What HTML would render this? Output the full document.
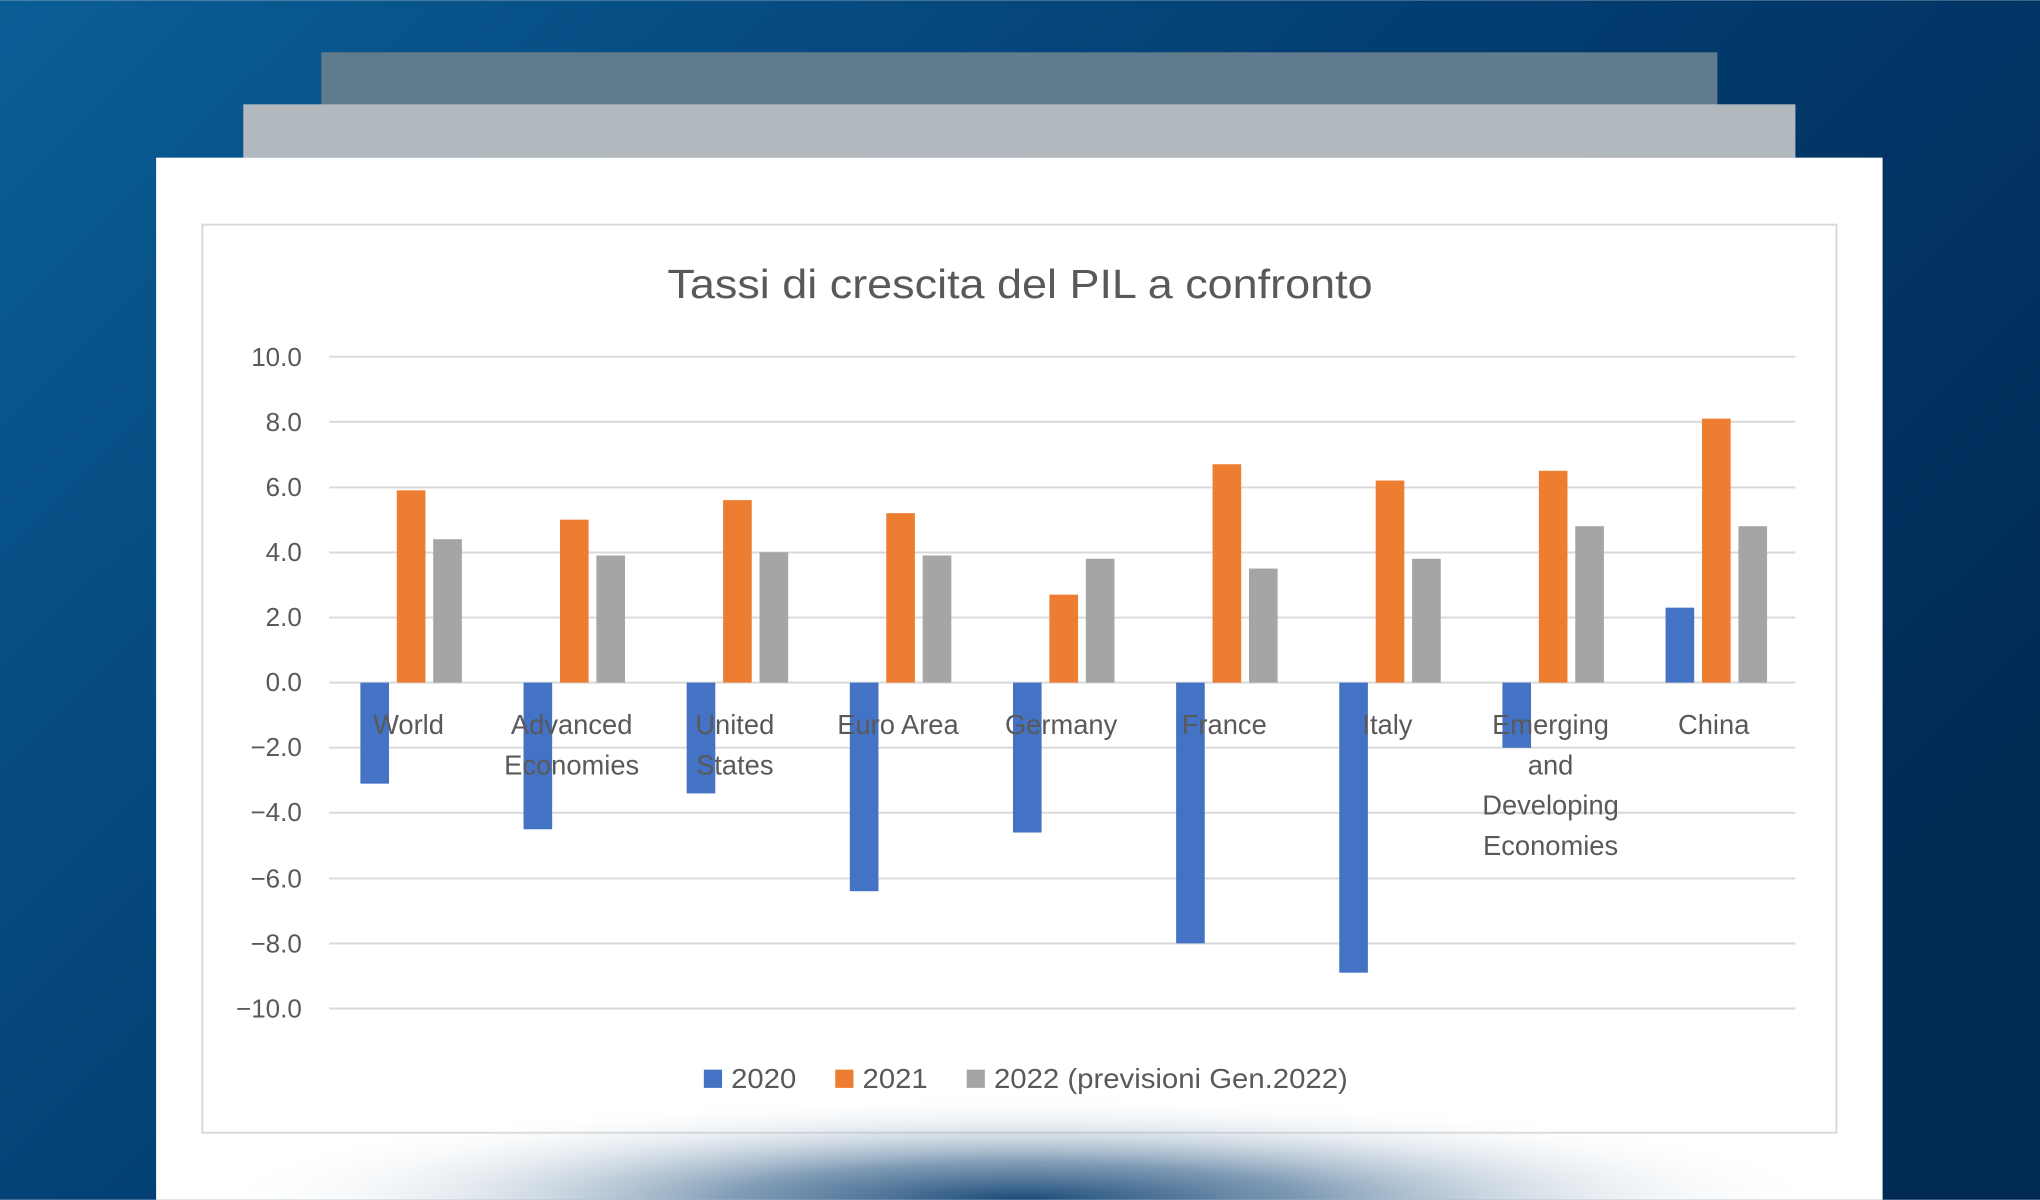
<!DOCTYPE html>
<html><head><meta charset="utf-8"><style>html,body{margin:0;padding:0;overflow:hidden}svg{display:block}</style></head>
<body>
<svg width="2040" height="1200" viewBox="0 0 1568 922" xmlns="http://www.w3.org/2000/svg" font-family="'Liberation Sans', 'DejaVu Sans', sans-serif">
<defs>
<linearGradient id="bg" x1="0" y1="0" x2="1" y2="0.6">
<stop offset="0" stop-color="#0a5e95"/><stop offset="0.5" stop-color="#033f74"/><stop offset="1" stop-color="#012a55"/>
</linearGradient>
<radialGradient id="fade" cx="0.5" cy="1" r="0.5" gradientTransform="translate(0,1) scale(1,1) translate(0,-1)">
<stop offset="0" stop-color="#1a4a78" stop-opacity="1"/><stop offset="0.35" stop-color="#5f82a3" stop-opacity="0.8"/><stop offset="0.7" stop-color="#b8c8d6" stop-opacity="0.35"/><stop offset="1" stop-color="#ffffff" stop-opacity="0"/>
</radialGradient>
</defs>
<rect width="1568" height="922" fill="url(#bg)"/>
<rect x="247" y="40" width="1073" height="41" fill="#5f7b8c"/>
<rect x="187" y="80" width="1193" height="41" fill="#b1b8be"/>
<rect x="120" y="121" width="1327" height="801" fill="#fff"/>
<rect x="155.5" y="172.5" width="1256" height="698" fill="none" stroke="#d9d9d9" stroke-width="1.5"/>
<text x="513" y="229" font-size="31" fill="#595959" textLength="542" lengthAdjust="spacingAndGlyphs">Tassi di crescita del PIL a confronto</text>
<g stroke="#d9d9d9" stroke-width="1.5">
<line x1="253" x2="1380" y1="274" y2="274"/><line x1="253" x2="1380" y1="324" y2="324"/><line x1="253" x2="1380" y1="374.5" y2="374.5"/><line x1="253" x2="1380" y1="424.5" y2="424.5"/><line x1="253" x2="1380" y1="474.5" y2="474.5"/><line x1="253" x2="1380" y1="524.5" y2="524.5"/><line x1="253" x2="1380" y1="574.5" y2="574.5"/><line x1="253" x2="1380" y1="624.5" y2="624.5"/><line x1="253" x2="1380" y1="675" y2="675"/><line x1="253" x2="1380" y1="725" y2="725"/><line x1="253" x2="1380" y1="775" y2="775"/>
</g>
<g font-size="20" fill="#595959" text-anchor="end">
<text x="232" y="281">10.0</text><text x="232" y="331">8.0</text><text x="232" y="381">6.0</text><text x="232" y="431">4.0</text><text x="232" y="481">2.0</text><text x="232" y="531">0.0</text><text x="232" y="581">−2.0</text><text x="232" y="631">−4.0</text><text x="232" y="682">−6.0</text><text x="232" y="732">−8.0</text><text x="232" y="782">−10.0</text>
</g>
<g id="bars"></g>
<g font-size="21" fill="#595959" text-anchor="middle" id="labels"></g>
<rect x="541" y="822" width="14" height="14" fill="#4472c4"/><text x="562" y="836" font-size="21" fill="#595959" textLength="50" lengthAdjust="spacingAndGlyphs">2020</text>
<rect x="642" y="822" width="14" height="14" fill="#ed7d31"/><text x="663" y="836" font-size="21" fill="#595959" textLength="50" lengthAdjust="spacingAndGlyphs">2021</text>
<rect x="743" y="822" width="14" height="14" fill="#a5a5a5"/><text x="764" y="836" font-size="21" fill="#595959" textLength="272" lengthAdjust="spacingAndGlyphs">2022 (previsioni Gen.2022)</text>
<rect x="160" y="760" width="1250" height="162" fill="url(#fade)"/>
<script>
var d=[["World",-3.1,5.9,4.4],["Advanced|Economies",-4.5,5.0,3.9],["United|States",-3.4,5.6,4.0],["Euro Area",-6.4,5.2,3.9],["Germany",-4.6,2.7,3.8],["France",-8.0,6.7,3.5],["Italy",-8.9,6.2,3.8],["Emerging|and|Developing|Economies",-2.0,6.5,4.8],["China",2.3,8.1,4.8]];
var c=["#4472c4","#ed7d31","#a5a5a5"],ns="http://www.w3.org/2000/svg",b=document.getElementById("bars"),l=document.getElementById("labels");
var z=524.5,u=25.05;
d.forEach(function(r,i){var cx=316+i*125.4;
for(var k=0;k<3;k++){var v=r[k+1],e=document.createElementNS(ns,"rect");var x=cx-11+(k-1)*28;
e.setAttribute("x",x);e.setAttribute("width",22);e.setAttribute("y",v>0?z-v*u:z);e.setAttribute("height",Math.abs(v)*u);e.setAttribute("fill",c[k]);b.appendChild(e);}
r[0].split("|").forEach(function(s,j){var t=document.createElementNS(ns,"text");t.setAttribute("x",cx-2);t.setAttribute("y",564+j*31);t.textContent=s;l.appendChild(t);});
});
</script>
</svg>
</body></html>
